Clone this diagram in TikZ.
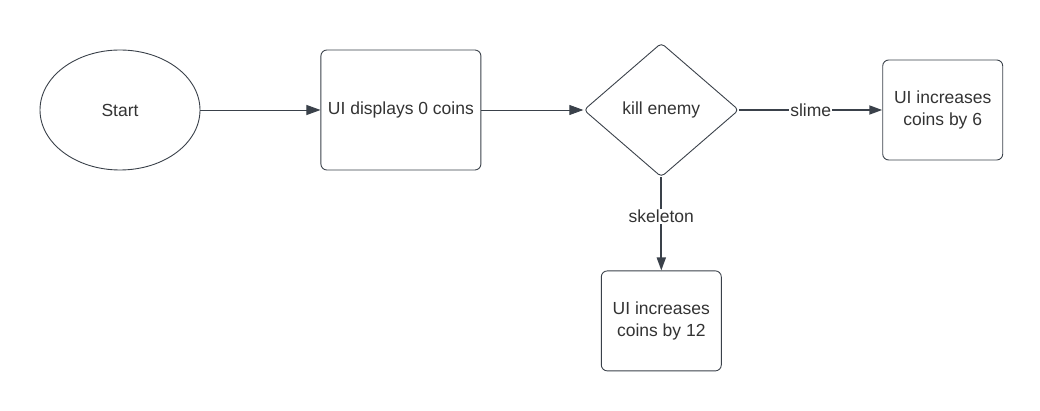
\documentclass[tikz,border=0pt]{standalone}
\usepackage{fontspec}
\setmainfont{Liberation Sans}
\usetikzlibrary{arrows.meta,positioning,shapes.geometric}
\definecolor{Ink}{HTML}{3A414A}
\definecolor{Txt}{HTML}{333333}

\begin{document}
\begin{tikzpicture}[x=1pt,y=1pt,
base/.style={draw=Ink,line width=0.9pt,text=Txt,font=\fontsize{17.5}{21.5}\selectfont,align=center,inner sep=2pt},
box/.style={base,rectangle,rounded corners=6pt,minimum width=160pt,minimum height=120pt},
small/.style={box,minimum width=120pt,minimum height=100pt},
term/.style={base,ellipse,minimum width=160pt,minimum height=120pt},
choice/.style={base,diamond,rounded corners=4pt,minimum width=155pt,minimum height=134pt,inner sep=0pt},
arr/.style={-{Triangle[length=14pt,width=10pt]},line width=0.9pt,draw=Ink},
barr/.style={arr,line width=1.8pt,-{Triangle[length=13pt,width=9pt]}},
lbl/.style={fill=white,text=Txt,font=\fontsize{17.5}{21.5}\selectfont,inner sep=1pt}]
\useasboundingbox (0,0) rectangle (1040,-411);
\node[term] (start) at (120,-110) {Start};
\node[box,right=120pt of start] (show) {UI displays 0 coins};
\node[choice,right=102pt of show] (kill) {kill enemy};
\node[small,right=143pt of kill] (six) {UI increases\\coins by 6};
\node[small,below=93pt of kill] (twelve) {UI increases\\coins by 12};
\draw[arr] (start)--(show);\draw[arr] (show)--(kill);
\draw[barr] (kill)--node[lbl]{slime}(six);
\draw[barr] (kill)--node[lbl,pos=0.42]{skeleton}(twelve);
\end{tikzpicture}
\end{document}
